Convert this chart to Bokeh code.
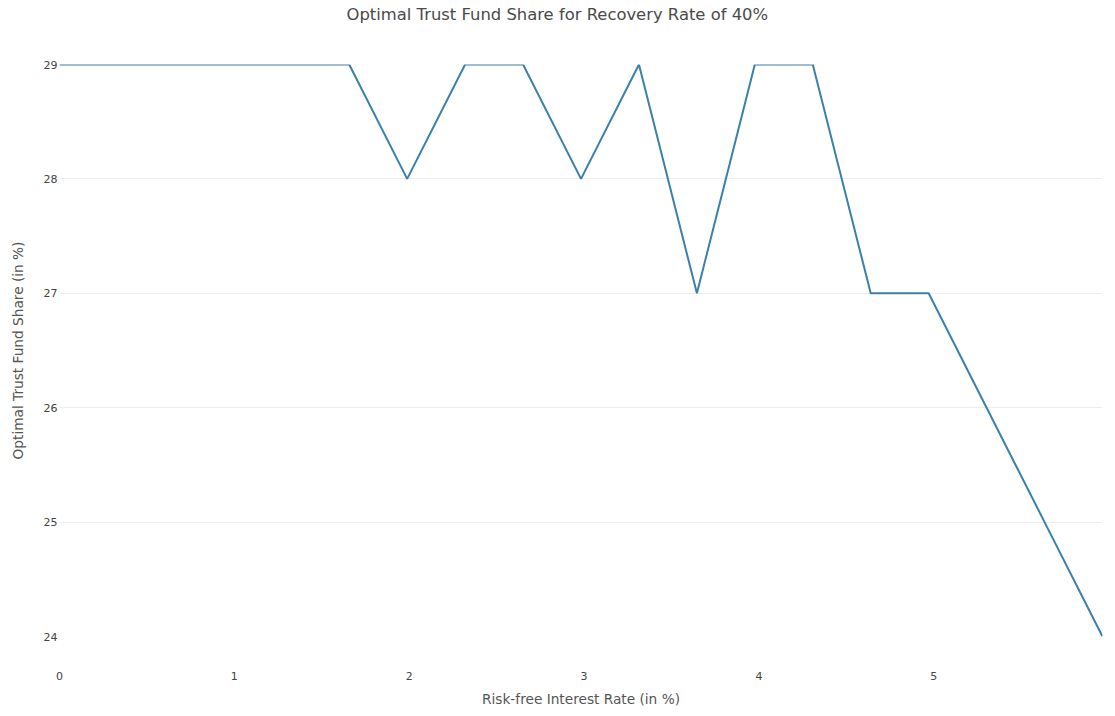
from bokeh.plotting import figure
from bokeh.embed import file_html
from bokeh.resources import INLINE
from bokeh.models import FixedTicker, Range1d, Title

step = 0.3314
idx = list(range(19))
rate = [i * step for i in idx]
share = [29, 29, 29, 29, 29, 29, 28, 29, 29, 28, 29, 27, 29, 29, 27, 27, 26, 25, 24]
x_ticks = [0, 1, 2, 3, 4, 5]
y_ticks = [24, 25, 26, 27, 28, 29]

FONT = "DejaVu Sans"

p = figure(width=1107, height=712, output_backend="svg", toolbar_location=None,
           x_range=Range1d(0, rate[-1]), y_range=Range1d(24, 29),
           min_border_left=59, min_border_right=5, min_border_top=64, min_border_bottom=76,
           title="Optimal Trust Fund Share for Recovery Rate of 40%")
p.outline_line_color = None
p.title.align = "left"
p.title.offset = 287
p.title.text_font = FONT
p.title.text_font_size = "16.4px"
p.title.text_font_style = "normal"
p.title.text_color = "#4a4a4a"
p.title.standoff = 0

# spacer between the title and the plot area
p.add_layout(Title(text=" ", text_font_size="1px", standoff=38), "above")

p.line(rate, share, line_color="#3a80aa", line_width=2)

p.xgrid.grid_line_color = None
p.ygrid.grid_line_color = "#eeeeee"
p.ygrid.grid_line_width = 1

for ax in (p.xaxis[0], p.yaxis[0]):
    ax.axis_line_color = None
    ax.major_tick_line_color = None
    ax.minor_tick_line_color = None
    ax.major_tick_out = 0
    ax.major_tick_in = 0
    ax.minor_tick_out = 0
    ax.minor_tick_in = 0
    ax.major_label_text_font = FONT
    ax.major_label_text_font_size = "11px"
    ax.major_label_text_color = "#444444"
    ax.axis_label_text_font = FONT
    ax.axis_label_text_font_size = "13.7px"
    ax.axis_label_text_font_style = "normal"
    ax.axis_label_text_color = "#555555"

p.xaxis.ticker = FixedTicker(ticks=x_ticks)
p.yaxis.ticker = FixedTicker(ticks=y_ticks)
p.xaxis.axis_label = "Risk-free Interest Rate (in %)"
p.yaxis.axis_label = "Optimal Trust Fund Share (in %)"
p.xaxis.major_label_standoff = 35
p.xaxis.axis_label_standoff = 8
p.yaxis.major_label_standoff = 2
p.yaxis.axis_label_standoff = 15

open("out.html", "w").write(file_html(p, INLINE))
